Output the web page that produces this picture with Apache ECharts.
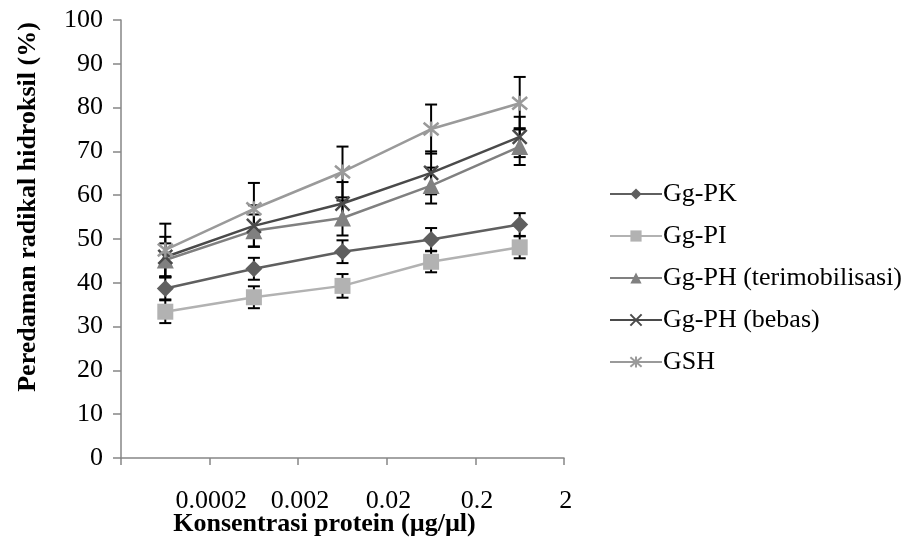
<!DOCTYPE html>
<html>
<head>
<meta charset="utf-8">
<script src="https://cdn.jsdelivr.net/npm/echarts@6/dist/echarts.min.js"></script>
<style>
  html, body { margin: 0; background: #fff; }
  #chart { width: 910px; height: 542px; }
</style>
</head>
<body>
<div id="chart"></div>
<script>
// 数据
const categories = ['0.0002', '0.002', '0.02', '0.2', '2'];
const names = ['Gg-PK', 'Gg-PI', 'Gg-PH (terimobilisasi)', 'Gg-PH (bebas)', 'GSH'];
const valPK = [38.7, 43.2, 47.1, 49.9, 53.3];
const valPI = [33.4, 36.7, 39.3, 44.8, 48.1];
const valPHImmob = [45.2, 51.9, 54.8, 62.2, 71.1];
const valPHFree = [45.9, 53.0, 58.1, 65.1, 73.3];
const valGSH = [47.5, 56.9, 65.3, 75.1, 81.0];
const errPK = [2.5, 2.5, 2.6, 2.6, 2.6];
const errPI = [2.6, 2.5, 2.7, 2.4, 2.5];
const errPHImmob = [3.8, 3.7, 4.0, 4.1, 4.2];
const errPHFree = [4.6, 4.7, 4.9, 4.9, 4.6];
const errGSH = [6.0, 5.9, 5.8, 5.6, 6.0];

const FONT = '"Liberation Serif", "Times New Roman", serif';
const styles = [
  { color: '#5f5f5f', symbol: 'diamond', size: 17 },
  { color: '#b2b2b2', symbol: 'rect', size: 16 },
  { color: '#808080', symbol: 'triangle', size: 17 },
  { color: '#4a4a4a', symbol: 'path://M0,0L10,10M10,0L0,10', size: 14 },
  { color: '#9a9a9a', symbol: 'path://M0,0L10,10M10,0L0,10M5,-1L5,11', size: 15 }
];
const values = [valPK, valPI, valPHImmob, valPHFree, valGSH];
const errors = [errPK, errPI, errPHImmob, errPHFree, errGSH];

const chart = echarts.init(document.getElementById('chart'));

const lineSeries = names.map((name, i) => ({
  name: name,
  type: 'line',
  data: values[i],
  symbol: styles[i].symbol,
  symbolSize: styles[i].size,
  z: 3,
  lineStyle: { color: styles[i].color, width: 2.5 },
  itemStyle: {
    color: styles[i].color,
    borderColor: styles[i].color,
    borderWidth: i >= 3 ? 2.5 : 0
  }
}));

// 误差线
const errSeries = names.map((name, i) => ({
  type: 'custom',
  z: 2,
  silent: true,
  data: values[i].map((v, k) => [k, v - errors[i][k], v + errors[i][k]]),
  renderItem: (params, api) => {
    const lo = api.coord([api.value(0), api.value(1)]);
    const hi = api.coord([api.value(0), api.value(2)]);
    const cap = 6;
    const st = { stroke: '#000', lineWidth: 2 };
    return {
      type: 'group',
      children: [
        { type: 'line', shape: { x1: lo[0], y1: lo[1], x2: hi[0], y2: hi[1] }, style: st },
        { type: 'line', shape: { x1: lo[0] - cap, y1: lo[1], x2: lo[0] + cap, y2: lo[1] }, style: st },
        { type: 'line', shape: { x1: hi[0] - cap, y1: hi[1], x2: hi[0] + cap, y2: hi[1] }, style: st }
      ]
    };
  }
}));

chart.setOption({
  animation: false,
  textStyle: { fontFamily: FONT },
  grid: { left: 121, right: 346, top: 20, bottom: 84, outerBoundsMode: 'none' },
  legend: {
    data: names,
    orient: 'vertical',
    left: 604,
    top: 176,
    itemWidth: 52,
    itemHeight: 14,
    itemGap: 16,
    textStyle: { fontFamily: FONT, fontSize: 26, color: '#000', padding: [0, 0, 0, -4] }
  },
  xAxis: {
    type: 'category',
    data: categories,
    boundaryGap: true,
    name: 'Konsentrasi protein (µg/µl)',
    nameLocation: 'middle',
    nameGap: 53,
    nameMoveOverlap: false,
    nameTextStyle: { fontFamily: FONT, fontSize: 26, fontWeight: 'bold', color: '#000', padding: [0, 36, 0, 0] },
    axisLine: { lineStyle: { color: '#868686', width: 1.5 } },
    axisTick: { show: true, length: 7, lineStyle: { color: '#868686', width: 1.5 } },
    axisLabel: {
      interval: 0,
      margin: 30,
      fontFamily: FONT,
      fontSize: 26,
      color: '#000',
      align: 'center',
      padding: [0, 0, 0, 92]
    },
    splitLine: { show: false }
  },
  yAxis: {
    type: 'value',
    min: 0,
    max: 100,
    interval: 10,
    name: 'Peredaman radikal hidroksil (%)',
    nameLocation: 'middle',
    nameGap: 80,
    nameRotate: 90,
    nameMoveOverlap: false,
    nameTextStyle: { fontFamily: FONT, fontSize: 26, fontWeight: 'bold', color: '#000', padding: [0, 0, 0, 64] },
    axisLine: { show: true, lineStyle: { color: '#868686', width: 1.5 } },
    axisTick: { show: true, length: 8, lineStyle: { color: '#868686', width: 1.5 } },
    axisLabel: { margin: 18, fontFamily: FONT, fontSize: 26, color: '#000' },
    splitLine: { show: false }
  },
  series: [...lineSeries, ...errSeries]
});
</script>
</body>
</html>
